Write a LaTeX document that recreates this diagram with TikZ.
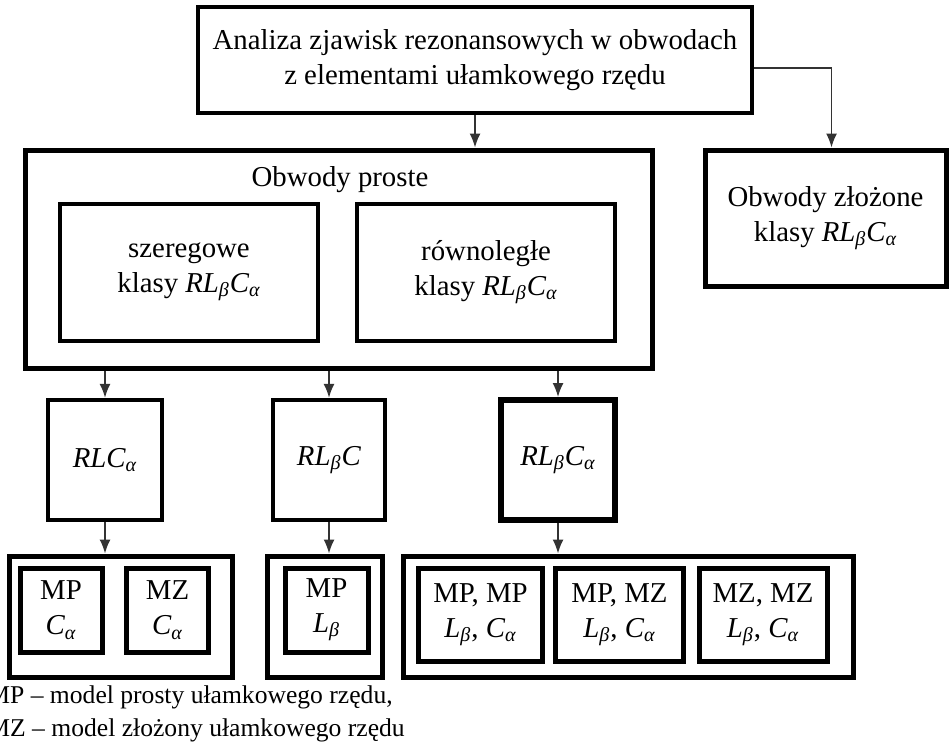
\documentclass[tikz,border=0pt]{standalone}
\usepackage{fontspec}
\setmainfont{Liberation Serif}
\usetikzlibrary{arrows.meta}

\newcommand{\klasa}{\textit{RL\textsubscript{β}C\textsubscript{α}}}

\tikzset{
  box/.style={draw, line width=2pt, inner sep=0pt, align=center},
  dims/.style 2 args={minimum width=#1*0.5pt, minimum height=#2*0.5pt},
  conn/.style={draw=black!80, line width=0.8pt, ->, >={Latex[length=7pt,width=5.5pt]}},
}

\begin{document}
\begin{tikzpicture}[x=0.5pt, y=-0.5pt, font=\fontsize{14.4}{17.5}\selectfont]
\useasboundingbox (0,0) rectangle (951,746);

% analiza
\node[box, line width=1.8pt, dims={554}{106}] (top) at (475,60) {Analiza zjawisk rezonansowych w obwodach\\ z elementami ułamkowego rzędu};

% obwody proste
\node[box, line width=2.5pt, dims={627}{218}] (proste) at (338.5,259) {};
\node (prosteT) at (340,180) {Obwody proste};
\node[box, dims={258}{137}] (szer) at (189,272) {szeregowe\\ klasy \klasa};
\node[box, dims={258}{137}] (rown) at (486,272) {równoległe\\ klasy \klasa};

% obwody zlozone
\node[box, line width=2.5pt, dims={241}{136}] (zloz) at (825.5,218) {Obwody złożone\\ klasy \klasa};

% klasy obwodow
\node[box, line width=2.2pt, dims={114}{120}] (rlc) at (105,460) {\textit{RLC\textsubscript{α}}};
\node[box, line width=2.2pt, dims={112}{120}] (rlbc) at (329,460) {\raisebox{3pt}{\textit{RL\textsubscript{β}C}}};
\node[box, line width=3pt, dims={114}{120}] (rlbca) at (558,460) {\klasa};

% modele
\node[box, line width=2.5pt, dims={223}{121}] (g1) at (120.5,616.5) {};
\node[box, line width=2.5pt, dims={82}{84}] (g1mp) at (61,610) {MP\\ \textit{C\textsubscript{α}}};
\node[box, line width=2.5pt, dims={82}{84}] (g1mz) at (167.5,610) {MZ\\ \textit{C\textsubscript{α}}};

\node[box, line width=2.5pt, dims={115}{121}] (g2) at (324.5,616.5) {};
\node[box, line width=2.5pt, dims={83}{84}] (g2mp) at (326.5,610) {MP\\ \textit{L\textsubscript{β}}};

\node[box, line width=2.5pt, dims={450}{121}] (g3) at (628,616.5) {};
\node[box, line width=2.5pt, dims={124}{93}] (g3a) at (480.5,614.5) {MP, MP\\ \textit{L\textsubscript{β}}, \textit{C\textsubscript{α}}};
\node[box, line width=2.5pt, dims={128}{93}] (g3b) at (619.5,614.5) {MP, MZ\\ \textit{L\textsubscript{β}}, \textit{C\textsubscript{α}}};
\node[box, line width=2.5pt, dims={128}{93}] (g3c) at (763,614.5) {MZ, MZ\\ \textit{L\textsubscript{β}}, \textit{C\textsubscript{α}}};

% legenda
\node[anchor=west, align=left, inner sep=0pt, font=\fontsize{12.8}{16.5}\selectfont] (legenda) at (-13,713.5) {MP – model prosty ułamkowego rzędu,\\ MZ – model złożony ułamkowego rzędu};

% strzalki
\draw[conn] (top.south) -- (top.south |- proste.north);
\draw[conn] ([yshift=-4pt]top.east) -| ([xshift=3pt]zloz.north);

\draw[conn] (rlc.north |- proste.south) -- (rlc.north);
\draw[conn] (rlbc.north |- proste.south) -- (rlbc.north);
\draw[conn] (rlbca.north |- proste.south) -- (rlbca.north);

\draw[conn] (rlc.south) -- (rlc.south |- g1.north);
\draw[conn] (rlbc.south) -- (rlbc.south |- g2.north);
\draw[conn] (rlbca.south) -- (rlbca.south |- g3.north);

\end{tikzpicture}
\end{document}
